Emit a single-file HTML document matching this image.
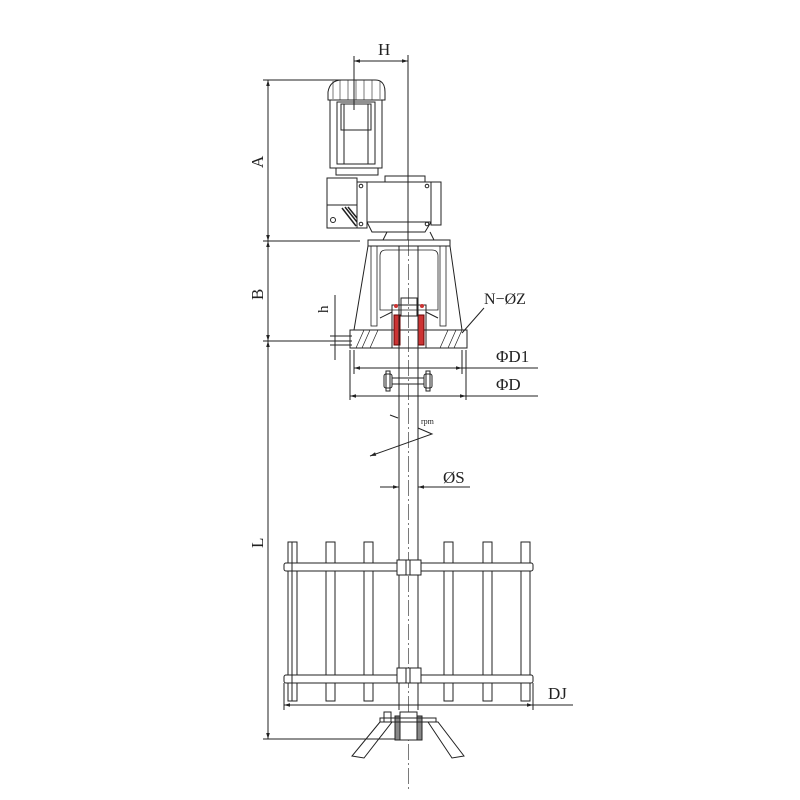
<!DOCTYPE html>
<html><head><meta charset="utf-8"><style>html,body{margin:0;padding:0;background:#fff}svg{display:block}</style></head>
<body>
<svg width="800" height="800" viewBox="0 0 800 800" xmlns="http://www.w3.org/2000/svg" font-family="Liberation Serif, serif" fill="none" stroke="#222" stroke-width="1">
<defs>
<marker id="ar" viewBox="0 0 10 10" refX="10" refY="5" markerWidth="8" markerHeight="6" orient="auto-start-reverse"><path d="M0,2 L10,5 L0,8 z" fill="#222" stroke="none"/></marker>
</defs>
<text x="378" y="55" font-size="17" fill="#222" stroke="none">H</text>
<line x1="354" y1="61" x2="408" y2="61" marker-start="url(#ar)" marker-end="url(#ar)"/>
<line x1="354" y1="56" x2="354" y2="110"/>
<line x1="408" y1="55" x2="408" y2="240"/>
<line x1="263" y1="80" x2="345" y2="80"/>
<line x1="263" y1="241" x2="360" y2="241"/>
<line x1="268" y1="80" x2="268" y2="241" marker-start="url(#ar)" marker-end="url(#ar)"/>
<text transform="translate(263,168) rotate(-90)" font-size="17" fill="#222" stroke="none">A</text>
<line x1="268" y1="241" x2="268" y2="341" marker-start="url(#ar)" marker-end="url(#ar)"/>
<line x1="263" y1="341" x2="352" y2="341"/>
<text transform="translate(263,300) rotate(-90)" font-size="17" fill="#222" stroke="none">B</text>
<line x1="335" y1="295" x2="335" y2="360"/>
<line x1="330" y1="336" x2="352" y2="336"/>
<line x1="330" y1="345" x2="352" y2="345"/>
<text transform="translate(328,313) rotate(-90)" font-size="15" fill="#222" stroke="none">h</text>
<path d="M328,92 Q330,80 342,80 L375,80 Q385,80 385,92 L385,100 L328,100 Z"/>
<path d="M333,81 L333,99 M340,80 L340,100 M348,80 L348,100 M356,80 L356,100 M364,80 L364,100 M372,80 L372,100 M380,81 L380,99" stroke-width="0.6"/>
<rect x="330" y="100" width="52" height="68"/>
<rect x="337" y="102" width="38" height="62"/>
<path d="M341,104 L371,104 L371,130 L341,130 Z"/>
<line x1="344" y1="104" x2="344" y2="164"/><line x1="368" y1="104" x2="368" y2="164"/>
<rect x="336" y="168" width="42" height="7"/>
<rect x="327" y="178" width="30" height="50"/>
<rect x="357" y="182" width="10" height="46"/>
<rect x="367" y="182" width="64" height="40"/>
<path d="M367,222 L372,232 L425,232 L431,222"/>
<rect x="431" y="182" width="10" height="43"/>
<rect x="385" y="176" width="40" height="6"/>
<line x1="327" y1="205" x2="357" y2="205"/>
<path d="M342,208 L356,226 M345,207 L357,222 M348,207 L357,218" stroke-width="1.5"/>
<circle cx="333" cy="220" r="2.5"/>
<circle cx="361" cy="186" r="1.8"/><circle cx="361" cy="224" r="1.8"/>
<circle cx="427" cy="186" r="1.8"/><circle cx="427" cy="224" r="1.8"/>
<path d="M387,232 L383,240 L434,240 L430,232"/>
<rect x="368" y="240" width="82" height="6"/>
<path d="M368,246 L354,330 M450,246 L462,330"/>
<rect x="371" y="246" width="6" height="80" stroke-width="0.8"/>
<rect x="440" y="246" width="6" height="80" stroke-width="0.8"/>
<path d="M380,256 Q380,250 386,250 L432,250 Q438,250 438,256 L438,310 L380,310 Z" stroke-width="0.8"/>
<rect x="350" y="330" width="117" height="18"/>
<path d="M356,348 L364,330 M362,348 L370,330 M370,348 L378,330 M440,348 L448,330 M448,348 L456,330 M454,348 L462,330" stroke-width="0.7"/>
<rect x="392" y="305" width="34" height="43" stroke-width="1"/>
<rect x="394" y="315" width="6" height="30" fill="#c33" stroke="#600"/>
<rect x="418" y="315" width="6" height="30" fill="#c33" stroke="#600"/>
<rect x="401" y="298" width="16" height="18"/>
<circle cx="396" cy="306" r="2" fill="#c33" stroke="none"/><circle cx="422" cy="306" r="2" fill="#c33" stroke="none"/>
<path d="M380,318 L392,312 M438,318 L426,312"/>
<text x="484" y="304" font-size="16" fill="#222" stroke="none">N−ØZ</text>
<line x1="484" y1="308" x2="462" y2="333"/>
<line x1="399" y1="246" x2="399" y2="710"/>
<line x1="418" y1="246" x2="418" y2="710"/>
<line x1="408.5" y1="240" x2="408.5" y2="790" stroke-dasharray="16,3,2,3" stroke-width="0.6"/>
<line x1="354" y1="350" x2="354" y2="374"/><line x1="462" y1="350" x2="462" y2="374"/>
<line x1="350" y1="350" x2="350" y2="400"/><line x1="466" y1="350" x2="466" y2="400"/>
<line x1="354" y1="368" x2="462" y2="368" marker-start="url(#ar)" marker-end="url(#ar)"/>
<line x1="462" y1="368" x2="538" y2="368"/>
<line x1="350" y1="396" x2="466" y2="396" marker-start="url(#ar)" marker-end="url(#ar)"/>
<line x1="466" y1="396" x2="538" y2="396"/>
<text x="496" y="362" font-size="17" fill="#222" stroke="none">ΦD1</text>
<text x="496" y="390" font-size="17" fill="#222" stroke="none">ΦD</text>
<rect x="384" y="374" width="8" height="14" rx="2"/><rect x="424" y="374" width="8" height="14" rx="2"/>
<rect x="386" y="371" width="4" height="20"/><rect x="426" y="371" width="4" height="20"/>
<line x1="392" y1="378" x2="424" y2="378"/><line x1="392" y1="384" x2="424" y2="384"/>
<line x1="390" y1="415" x2="398" y2="418"/>
<text x="421" y="424" font-size="8" fill="#222" stroke="none">rpm</text>
<path d="M418,428 L432,434 L370,456" marker-end="url(#ar)"/>
<line x1="380" y1="487" x2="399" y2="487" marker-end="url(#ar)"/>
<line x1="470" y1="487" x2="418" y2="487" marker-end="url(#ar)"/>
<text x="443" y="483" font-size="17" fill="#222" stroke="none">ØS</text>
<line x1="268" y1="341" x2="268" y2="739" marker-start="url(#ar)" marker-end="url(#ar)"/>
<line x1="263" y1="739" x2="400" y2="739"/>
<text transform="translate(263,548) rotate(-90)" font-size="17" fill="#222" stroke="none">L</text>
<g fill="#fff">
<rect x="288" y="542" width="9" height="159"/><rect x="326" y="542" width="9" height="159"/><rect x="364" y="542" width="9" height="159"/>
<rect x="444" y="542" width="9" height="159"/><rect x="483" y="542" width="9" height="159"/><rect x="521" y="542" width="9" height="159"/>
<rect x="284" y="563" width="249" height="8" rx="2"/><rect x="284" y="675" width="249" height="8" rx="2"/>
<rect x="397" y="560" width="24" height="15"/><rect x="397" y="668" width="24" height="15"/>
</g>
<line x1="292" y1="542" x2="292" y2="701"/>
<path d="M406,560 V575 M410,560 V575 M406,668 V683 M410,668 V683"/>
<line x1="284" y1="705" x2="533" y2="705" marker-start="url(#ar)" marker-end="url(#ar)"/>
<line x1="533" y1="705" x2="573" y2="705"/>
<line x1="284" y1="683" x2="284" y2="710"/><line x1="533" y1="683" x2="533" y2="710"/>
<text x="548" y="699" font-size="17" fill="#222" stroke="none">DJ</text>
<rect x="395" y="716" width="27" height="24" fill="#888" stroke="#222"/>
<rect x="400" y="712" width="17" height="28" fill="#fff"/>
<path d="M380,718 L436,718 L436,722 L380,722 Z"/>
<path d="M380,722 L352,756 L364,758 L392,722 Z"/>
<path d="M428,722 L452,758 L464,756 L438,722 Z"/>
<rect x="384" y="712" width="7" height="10"/>
</svg>
</body></html>
